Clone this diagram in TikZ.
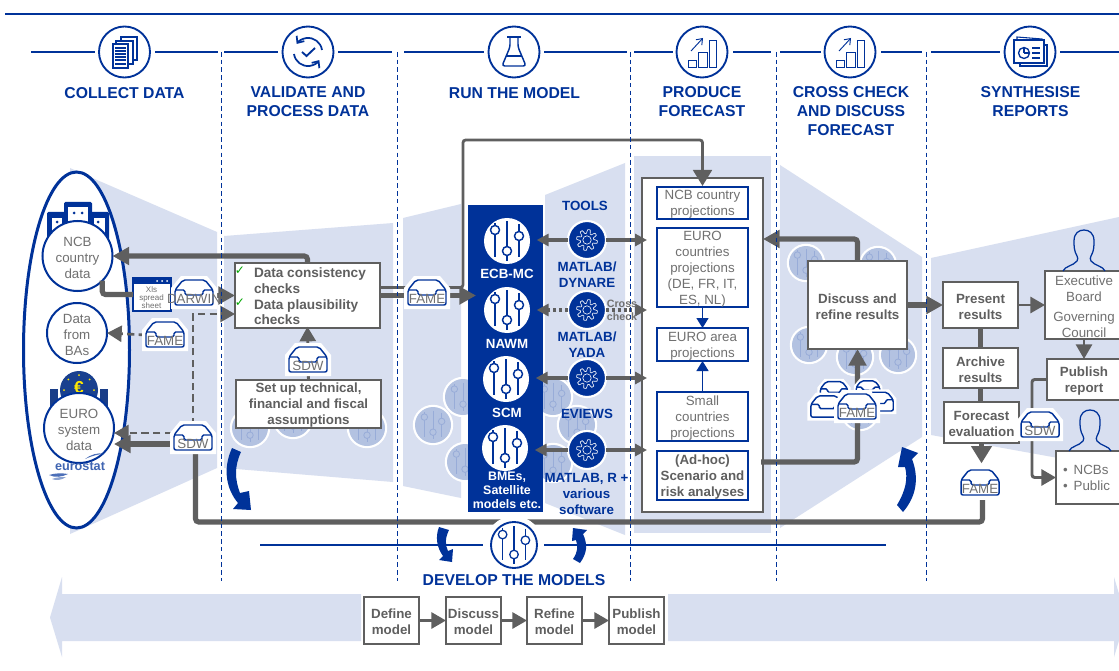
\documentclass[tikz,border=0pt]{standalone}
\usepackage{fontspec}
\setmainfont{Liberation Sans}
\newfontfamily\dejavu{DejaVu Sans}
\usetikzlibrary{arrows.meta,calc}
\definecolor{ecb}{HTML}{003299}
\definecolor{bgl}{HTML}{D8DFF0}
\definecolor{cg}{HTML}{5F5F5F}
\definecolor{tg}{HTML}{707070}
\definecolor{fc}{HTML}{B3C2E1}
\definecolor{fl}{HTML}{98ACD8}
\pgfdeclarelayer{back}
\pgfdeclarelayer{trays}
\pgfsetlayers{back,main,trays}
\newcommand\Tk{\rule{0pt}{9.5pt}}
\tikzset{
  wh/.style 2 args={minimum width=#1*.75pt,minimum height=#2*.75pt},
  txt/.style={text=tg,font=\fontsize{10}{12}\selectfont,align=center,inner sep=0pt,outer sep=0pt},
  btxt/.style={text=cg,font=\fontsize{10}{12}\selectfont\bfseries,align=center,inner sep=0pt,outer sep=0pt},
  hdr/.style={text=ecb,font=\fontsize{11.8}{14.25}\selectfont\bfseries,align=center,inner sep=0pt,outer sep=0pt},
  tool/.style={text=ecb,font=\fontsize{10}{12}\selectfont\bfseries,align=center,inner sep=0pt,outer sep=0pt},
  mlab/.style={text=white,font=\fontsize{10}{12}\selectfont\bfseries,align=center,inner sep=0pt,outer sep=0pt},
  gbox/.style={draw=cg,line width=1.6pt,fill=white,inner sep=0pt,outer sep=0pt},
  bbox/.style={draw=ecb,line width=1.6pt,fill=white,inner sep=0pt,outer sep=0pt},
  dcirc/.style={circle,draw=ecb,line width=1.5pt,fill=white,inner sep=0pt,outer sep=0pt},
  wcirc/.style={circle,fill=white,inner sep=0pt,outer sep=0pt},
  gearn/.style={circle,fill=ecb,draw=white,line width=1.6pt,inner sep=0pt,outer sep=0pt,minimum size=38*.75pt},
  hcirc/.style={circle,draw=ecb,line width=1.4pt,fill=white,inner sep=0pt,outer sep=0pt,minimum size=51*.75pt},
  hline/.style={draw=ecb,line width=1.9pt},
  trayn/.style={inner sep=0pt,outer sep=0pt,minimum width=38*.75pt,minimum height=26*.75pt},
  trayt/.style={text=tg,font=\fontsize{10}{12}\selectfont,inner sep=0pt,outer sep=0pt},
  big/.style={draw=cg,line width=3.9pt,rounded corners=2.5pt,-{Triangle[length=12.5pt,width=13pt]}},
  bigplain/.style={draw=cg,line width=3.9pt,rounded corners=2.5pt},
  mid/.style={draw=cg,line width=2.2pt,rounded corners=2pt,-{Triangle[length=11pt,width=12pt]}},
  lil/.style={draw=cg,line width=3.6pt,-{Triangle[length=9pt,width=9pt]}},
  dashc/.style={draw=cg,line width=2pt,dash pattern=on 5.5pt off 3.2pt,-{Triangle[length=11pt,width=12pt]}},
  blueup/.style={draw=ecb,line width=1.1pt,-{Triangle[length=7.5pt,width=9pt]}},
  vdash/.style={draw=ecb,line width=.7pt,dash pattern=on 3.4pt off 2.4pt},
  areafill/.style={fill=bgl,draw=none},
}
\newcommand\trayicon[3]{%
  \begin{scope}[shift={(#1,#2)},scale=#3]
    \fill[white] (-13,-17) -- (13,-17) -- (23,-5) -- (23,16) -- (-23,16) -- (-23,-5) -- cycle;
    \draw[ecb,line width=1.1pt,line join=round,rounded corners=1.5pt]
      (-11,-13) -- (11,-13) -- (19,-3) -- (19,12) -- (-19,12) -- (-19,-3) -- cycle;
    \draw[ecb,line width=1.1pt,rounded corners=1.2pt]
      (-19,-3) -- (-9,-3) -- (-9,2) -- (9,2) -- (9,-3) -- (19,-3);
  \end{scope}}
\newcommand\traynode[4]{%
  \begin{pgfonlayer}{trays}
    \trayicon{#2}{#3}{1}
    \node[trayn] (#1) at (#2,#3) {};
    \node[trayt] (#1t) at (#2,#3+6) {#4};
  \end{pgfonlayer}}
\newcommand\sliderpic[6]{%
  \begin{scope}[shift={(#1,#2)},scale=#3]
    \draw[#4,line width=#6] (-12,-18) -- (-12,16) (0,-20) -- (0,20) (12,-17) -- (12,16);
    \draw[#4,fill=#5,line width=#6] (-12,-11) circle[radius=4.5] (0,10) circle[radius=4.5] (12,-5) circle[radius=4.5];
  \end{scope}}
\newcommand\faintc[3]{%
  \fill[white] (#1,#2) circle[radius=#3+2.2];
  \fill[fc] (#1,#2) circle[radius=#3];
  \sliderpic{#1}{#2}{.72}{fl}{fc}{.6pt}}
\newcommand\gearicon[2]{%
  \begin{scope}[shift={(#1,#2)}]
    \draw[white,line width=.45pt,line join=round] plot[samples=81,domain=0:360,variable=\t]
      (\t:{8.6+1.9*max(-1,min(1,2.4*sin(8*\t)))}) -- cycle;
    \draw[white,line width=.45pt] (0,0) circle[radius=4.2];
  \end{scope}}
\newcommand\barsicon[2]{%
  \begin{scope}[shift={(#1,#2)}]
    \draw[ecb,line width=.7pt] (-14,8) rectangle (-6,15);
    \draw[ecb,line width=.7pt] (-4,0) rectangle (5,15);
    \draw[ecb,line width=.7pt] (7,-12) rectangle (14,15);
    \draw[ecb,line width=.7pt,-{Straight Barb[length=4pt,width=6pt]}] (-11,-1) -- (1,-14);
  \end{scope}}
\newcommand\personicon[2]{%
  \begin{scope}[shift={(#1,#2)}]
    \draw[ecb,line width=.95pt] (-21,41) .. controls (-19,36) and (-11,36) .. (-7,31)
      .. controls (-6,29) and (-6,28) .. (-7,26)
      .. controls (-10,21) and (-10,16) .. (-10,11)
      .. controls (-10,3) and (-5,0) .. (0,0)
      .. controls (5,0) and (10,3) .. (10,11)
      .. controls (10,16) and (10,21) .. (7,26)
      .. controls (6,28) and (6,29) .. (7,31)
      .. controls (11,36) and (19,36) .. (21,41);
  \end{scope}}
\begin{document}
\begin{tikzpicture}[x=.75pt,y=-.75pt]
\clip (0,0) rectangle (1119,670);

\begin{pgfonlayer}{back}
\fill[white] (0,0) rectangle (1119,670);
\fill[areafill] (70,168) -- (97,180) -- (217,232) -- (217,468) -- (97,522) -- (70,534) -- cycle;
\fill[areafill] (224,236) -- (393,223) -- (393,482) -- (224,468) -- cycle;
\fill[areafill] (403,218) -- (461,204) -- (461,498) -- (403,486) -- cycle;
\fill[areafill] (545,195) -- (625,163) -- (625,535) -- (545,503) -- cycle;
\fill[areafill] (634,156) rectangle (771,533);
\fill[areafill] (780,165) -- (922,257) -- (922,437) -- (780,528) -- cycle;
\fill[areafill] (931,258) -- (1119,217) -- (1119,469) -- (931,435) -- cycle;
\fill[areafill] (50,617.5) -- (62,577) -- (62,594) -- (361,594) -- (361,641) -- (62,641) -- (62,657) -- cycle;
\fill[areafill] (668,594) -- (1114,594) -- (1114,577) -- (1126,617.5) -- (1114,657) -- (1114,641) -- (668,641) -- cycle;
\faintc{250}{428}{18}\faintc{293}{419}{18}\faintc{367}{428}{18}
\faintc{433}{425}{18}\faintc{463}{397}{18}\faintc{465}{462}{18}
\faintc{553}{397}{18}\faintc{577}{425}{18}\faintc{553}{463}{18}
\faintc{806}{263}{17}\faintc{878}{265}{17}\faintc{809}{345}{17}
\faintc{855}{357}{17}\faintc{898}{355}{17}\faintc{860}{412}{17}
\end{pgfonlayer}

\draw[hline,line width=1.6pt] (5,14) -- (1119,14);
\foreach \a/\b in {31/95,155/218,224/278,338/392,404/484,544/627,634/673,733/771,780/821,881/922,931/1000,1060/1119}
  \draw[hline] (\a,52) -- (\b,52);

\node[hcirc] (ic1) at (124.5,52) {};
\node[hcirc] (ic2) at (308,52) {};
\node[hcirc] (ic3) at (514,52) {};
\node[hcirc] (ic4) at (702,52) {};
\node[hcirc] (ic5) at (850,52) {};
\node[hcirc] (ic6) at (1030,52) {};
\begin{scope}[ecb,line width=.9pt]
  \draw (113,44) rectangle (128,68);
  \draw (116,44) -- (116,41) -- (133,41) -- (133,64) -- (128,64);
  \draw (121,41) -- (121,37) -- (137,37) -- (137,60) -- (133,60);
  \foreach \y in {48,51,54,57,60,64} \draw (115,\y) -- (126,\y);
\end{scope}
\begin{scope}[shift={(308,52)},ecb,line width=1.3pt]
  \draw[-{Straight Barb[length=4pt,width=7pt]}] (14,-2) arc[start angle=-8,end angle=-145,radius=14];
  \draw[-{Straight Barb[length=4pt,width=7pt]}] (-14,2) arc[start angle=172,end angle=35,radius=14];
  \draw[line width=1.4pt] (-6,0) -- (-1.5,4) -- (7,-4);
\end{scope}
\begin{scope}[shift={(514,52)},ecb,line width=1.1pt,line join=round]
  \draw (-7,-15) -- (7,-15);
  \draw[rounded corners=2pt] (-4,-15) -- (-4,-5) -- (-12,14) -- (12,14) -- (4,-5) -- (4,-15);
  \draw (-8,4) -- (8,4);
\end{scope}
\barsicon{702}{52}
\barsicon{850}{52}
\begin{scope}[ecb,line width=.8pt]
  \draw (1017,40) -- (1017,37) -- (1042,39) -- (1042,40);
  \draw (1044,45) -- (1047,45) -- (1047,66) -- (1020,66) -- (1020,63);
  \draw (1014,40) rectangle (1044,63);
  \draw[line width=1pt] (1024,53) circle[radius=5.5];
  \draw[line width=1pt] (1024,53) -- (1024,47.5) (1024,53) -- (1029.5,53);
  \draw (1032,48) -- (1040,48) (1032,53) -- (1040,53) (1032,58) -- (1040,58);
\end{scope}

\node[hdr] (h1) at (124.5,93) {COLLECT DATA};
\node[hdr,anchor=north] (h2) at (308,86.5) {VALIDATE AND\\PROCESS DATA};
\node[hdr] (h3) at (514.5,93) {RUN THE MODEL};
\node[hdr,anchor=north] (h4) at (702,86.5) {PRODUCE\\FORECAST};
\node[hdr,anchor=north] (h5) at (851,86.5) {CROSS CHECK\\AND DISCUSS\\FORECAST};
\node[hdr,anchor=north] (h6) at (1030.5,86.5) {SYNTHESISE\\REPORTS};

\draw[ecb,line width=2.25pt,fill=white] (76.5,350) ellipse[x radius=53,y radius=178];
\begin{scope}
  \fill[ecb,rounded corners=1pt] (47,212) rectangle (109,240);
  \fill[ecb,rounded corners=1pt] (64,202) rectangle (92,240);
  \fill[white] (68,207) rectangle (88,235);
  \fill[white] (52,218) rectangle (62,240);
  \fill[white] (94,218) rectangle (105,240);
  \fill[ecb] (74,213) circle[radius=1.5] (82,213) circle[radius=1.5] (57,222) circle[radius=1.5] (98,222) circle[radius=1.5];
\end{scope}
\begin{scope}
  \fill[ecb!80!black!90] (50,389) rectangle (58,412);
  \fill[ecb!80!black!90] (100,389) rectangle (108,412);
  \fill[ecb!85!black!90] (79,390) circle[radius=19];
  \foreach \a in {0,45,90,135,180,225,270,315}
    \fill[yellow!90!orange] ($(79,390)+(\a:15)$) circle[radius=1];
\end{scope}
\node[text=yellow!90!orange,font=\fontsize{13}{13}\selectfont\bfseries,inner sep=0pt] (euro) at (79,388) {€};
\node[dcirc,wh={70}{70},txt] (ncb) at (77.5,256) {\Tk NCB\\country\\data};
\node[dcirc,wh={60}{60},txt] (bas) at (77,333) {\Tk Data\\from\\BAs};
\node[dcirc,wh={70}{70},txt] (eus) at (79,428) {\Tk EURO\\system\\data};
\fill[ecb!70] (85,459) .. controls (90,455) and (98,452) .. (104,454) .. controls (98,454) and (92,456) .. (85,459) -- cycle;
\fill[ecb!70] (49,475) .. controls (55,473) and (62,473) .. (68,474) .. controls (62,477) and (55,478) .. (49,475) -- cycle;
\fill[ecb!45] (52,479) .. controls (57,477) and (62,477) .. (66,477) .. controls (62,480) and (56,481) .. (52,479) -- cycle;
\node[text=ecb!75,font=\fontsize{9.5}{10}\selectfont\bfseries,inner sep=0pt] (estat) at (80,466) {eurostat};

\node[bbox,line width=1pt,wh={38}{33}] (xls) at (152,294.5) {};
\fill[ecb] (133,278) rectangle (171,284);
\fill[white] (157,281) circle[radius=1] (162,281) circle[radius=1] (167,281) circle[radius=1];
\node[text=tg,font=\fontsize{6}{6}\selectfont,align=center,inner sep=0pt] (xlst) at (151.5,297.5) {Xls\\spread\\sheet};

\node[gbox,wh={145}{65}] (val) at (307.5,295.5) {};
\node[btxt,font=\fontsize{10.2}{11.8}\selectfont\bfseries,anchor=west,align=left] (valt) at (254,296.5) {Data consistency\\checks\\Data plausibility\\checks};
\node[text=green!65!black,font=\dejavu\fontsize{9}{9}\selectfont,inner sep=0pt] (chk1) at (240,271) {✓};
\node[text=green!65!black,font=\dejavu\fontsize{9}{9}\selectfont,inner sep=0pt] (chk2) at (240,303) {✓};
\node[gbox,wh={145}{46},btxt] (setup) at (308.5,404) {\Tk Set up technical,\\financial and fiscal\\assumptions};

\traynode{darwin}{194}{293}{DARWIN}
\traynode{fame1}{165}{335}{FAME}
\traynode{sdw1}{193}{438}{SDW}
\traynode{sdw2}{308}{360}{SDW}
\traynode{fame2}{427}{293}{FAME}

\node[fill=ecb,wh={75}{307},inner sep=0pt,outer sep=0pt] (model) at (505.5,358.5) {};
\foreach \n/\x/\y in {m1/507/241,m2/507/310,m3/506/379,m4/505/448}{
  \node[wcirc,wh={46}{46}] (\n) at (\x,\y) {};
  \sliderpic{\x}{\y}{1}{ecb}{white}{1.1pt}
}
\node[mlab] (l1) at (507,274) {ECB-MC};
\node[mlab] (l2) at (507,344) {NAWM};
\node[mlab] (l3) at (507,413) {SCM};
\node[mlab,font=\fontsize{9.3}{10.6}\selectfont\bfseries] (l4) at (507,490) {BMEs,\\Satellite\\models etc.};

\foreach \n/\y in {g1/240,g2/310,g3/378,g4/450}{
  \node[gearn] (\n) at (587,\y) {};
  \gearicon{587}{\y}
}
\node[tool] (t0) at (585,206) {TOOLS};
\node[tool] (t1) at (587,275) {MATLAB/\\DYNARE};
\node[tool] (t2) at (587,344.5) {MATLAB/\\YADA};
\node[tool] (t3) at (587,414) {EVIEWS};
\node[tool] (t4) at (586.5,494) {MATLAB, R +\\various\\software};

\node[gbox,wh={121}{334}] (fc) at (702.5,345) {};
\node[bbox,wh={91}{32},txt] (p1) at (702.5,203) {\Tk NCB country\\projections};
\node[bbox,wh={91}{79},txt] (p2) at (702.5,267.5) {\Tk EURO\\countries\\projections\\(DE, FR, IT,\\ES, NL)};
\node[bbox,wh={91}{33},txt] (p3) at (702.5,344.5) {\Tk EURO area\\projections};
\node[bbox,wh={91}{49},txt] (p4) at (702.5,416.5) {\Tk Small\\countries\\projections};
\node[bbox,wh={91}{49},btxt] (p5) at (702.5,475.5) {\Tk (Ad-hoc)\\Scenario and\\risk analyses};
\draw[blueup] (p2) -- (p3);
\draw[blueup] (p4) -- (p3);

\node[gbox,wh={99}{88},btxt] (disc) at (857.5,305) {\Tk Discuss and\\refine results};
\coordinate (fcin) at (763,239);
\coordinate (fcout) at (761,462);
\draw[big] (disc.north) |- (fcin);
\draw[big] (fcout) -| (disc.south);
\begin{pgfonlayer}{trays}
  \trayicon{834}{391}{.72}
  \trayicon{868}{389}{.62}
  \trayicon{827}{407}{.85}
  \trayicon{879}{402}{.75}
\end{pgfonlayer}
\traynode{fame4}{857}{407}{FAME}

\node[gbox,wh={75}{46},btxt,line width=1.2pt] (pres) at (980.5,305) {\Tk Present\\results};
\node[gbox,wh={75}{40},btxt,line width=1.2pt] (arch) at (980.5,368) {\Tk Archive\\results};
\node[gbox,wh={75}{41},btxt,line width=1.2pt] (feval) at (981.5,422.5) {\Tk Forecast\\evaluation};
\node[gbox,wh={78}{68},txt,line width=1.2pt] (exec) at (1084,305) {\Tk Executive\\Board\\[3pt]Governing\\Council};
\node[gbox,wh={74}{41},btxt,line width=1.2pt] (pub) at (1084,379.5) {\Tk Publish\\report};
\node[gbox,wh={74}{53},line width=1.2pt] (ncbs) at (1093,477.5) {};
\node[txt,anchor=west,align=left] (ncbst) at (1063,478) {\textbullet\hspace{4.5pt}NCBs\\\textbullet\hspace{4.5pt}Public};
\personicon{1084}{230}
\personicon{1090}{410}
\traynode{fame3}{980}{483}{FAME}
\traynode{sdw3}{1040}{425}{SDW}

\draw[big] (val.north) |- (ncb.east);
\draw[bigplain] (ncb.-45) |- (xls.west);
\draw[big] (darwin.center |- val.west) -- (val.west);
\coordinate (dashcorner) at (193,314);
\coordinate (dashend) at (235,314);
\draw[dashc] (sdw1.north) -- (dashcorner) -- (dashend);
\draw[dashc] (fame1.west) -- (bas.east);
\coordinate (sdwa) at (172,433);
\coordinate (sdwb) at (172,444);
\draw[dashc] (sdwa) -- (sdwa -| eus.east);
\draw[big] (sdwb) -- (sdwb -| eus.east);
\coordinate (botl) at (195.5,522);
\coordinate (botr) at (982.5,522);
\draw[bigplain] (botl |- sdw1.south) -- (botl) -- (botr) -- ([yshift=-3pt]botr |- fame3.south);
\draw[big,shorten >=-6pt] (val.east) -- (val.east -| model.west);
\coordinate (loopa) at (463,140);
\draw[mid,line width=2.1pt,-{Triangle[length=12pt,width=14pt]},shorten >=-6pt] ([yshift=6pt]val.east) -| (loopa) -| (fc.north);
\draw[mid,shorten >=-1pt] (setup.north) -- (val.south);
\foreach \g/\m in {g1/m1,g3/m3,g4/m4}{
  \draw[lil,shorten >=5pt] (\g.west) -- (\g.west -| \m.east);
  \draw[lil,shorten >=-3.75pt] (\g.east) -- (\g.east -| fc.west);
}
\draw[lil,dash pattern=on 2.2pt off 2.2pt,shorten >=5pt] (g2.west) -- (g2.west -| m2.east);
\draw[lil,dash pattern=on 2.2pt off 2.2pt,shorten >=-3.75pt] (g2.east) -- (g2.east -| fc.west);
\node[text=tg,font=\fontsize{8}{9.6}\selectfont\bfseries,align=center,inner sep=0pt] (cross) at (622,310.5) {Cross\\check};
\draw[big,line width=4.2pt] (disc.east |- pres.west) -- (pres.west);
\draw[bigplain] (pres) -- (arch);
\draw[bigplain] (arch.south) -- (arch.south |- feval.north);
\draw[big,-{Triangle[length=13pt,width=15pt]},shorten >=5pt] (feval.south) -- (feval.south |- fame3.north);
\draw[mid] (pres.east) -- (exec.west);
\draw[mid] (exec.south) -- (pub.north);
\coordinate (pubm) at (1032,430);
\draw[mid] (pub.west) -| (pubm) |- (ncbs.west);

\foreach \x in {221,397,630,776,926} \draw[vdash] (\x,52) -- (\x,581);

\node[wcirc,wh={58}{58}] (devw) at (514,545) {};
\draw[hline,line width=1.5pt] (260,544.5) -- (483,544.5);
\draw[hline,line width=1.5pt] (544,544.5) -- (886,544.5);
\node[hcirc,wh={46}{46}] (dev) at (514,545) {};
\sliderpic{514}{545}{.95}{ecb}{white}{.95pt}
\node[hdr] (devt) at (514,580) {DEVELOP THE MODELS};
\fill[ecb] (232,448) -- (241,452) .. controls (234,467) and (235,480) .. (240,493) -- (249,491) -- (251,510) -- (233,509) -- (238,503) .. controls (227,490) and (222,470) .. (232,448) -- cycle;
\fill[ecb] (897,505) .. controls (906,490) and (908,478) .. (905,467) -- (898,467) -- (902,447) -- (918,453) -- (912,459) .. controls (920,480) and (915,498) .. (903,512) -- cycle;
\fill[ecb] (439,527) -- (449,530) .. controls (445,538) and (445,545) .. (448,551) -- (453,549) -- (452,562) -- (439,560) -- (443,556) .. controls (437,548) and (435,537) .. (439,527) -- cycle;
\fill[ecb] (573,559) .. controls (578,552) and (578,546) .. (576,540) -- (572,541) -- (573,528) -- (587,530) -- (583,534) .. controls (588,545) and (587,553) .. (580,563) -- cycle;

\node[gbox,wh={55}{47},btxt,line width=1.2pt] (b1) at (391.5,620.5) {\Tk Define\\model};
\node[gbox,wh={55}{47},btxt,line width=1.2pt] (b2) at (473.5,620.5) {\Tk Discuss\\model};
\node[gbox,wh={55}{47},btxt,line width=1.2pt] (b3) at (554.5,620.5) {\Tk Refine\\model};
\node[gbox,wh={55}{47},btxt,line width=1.2pt] (b4) at (636.5,620.5) {\Tk Publish\\model};
\draw[mid] (b1) -- (b2);
\draw[mid] (b2) -- (b3);
\draw[mid] (b3) -- (b4);
\end{tikzpicture}
\end{document}
